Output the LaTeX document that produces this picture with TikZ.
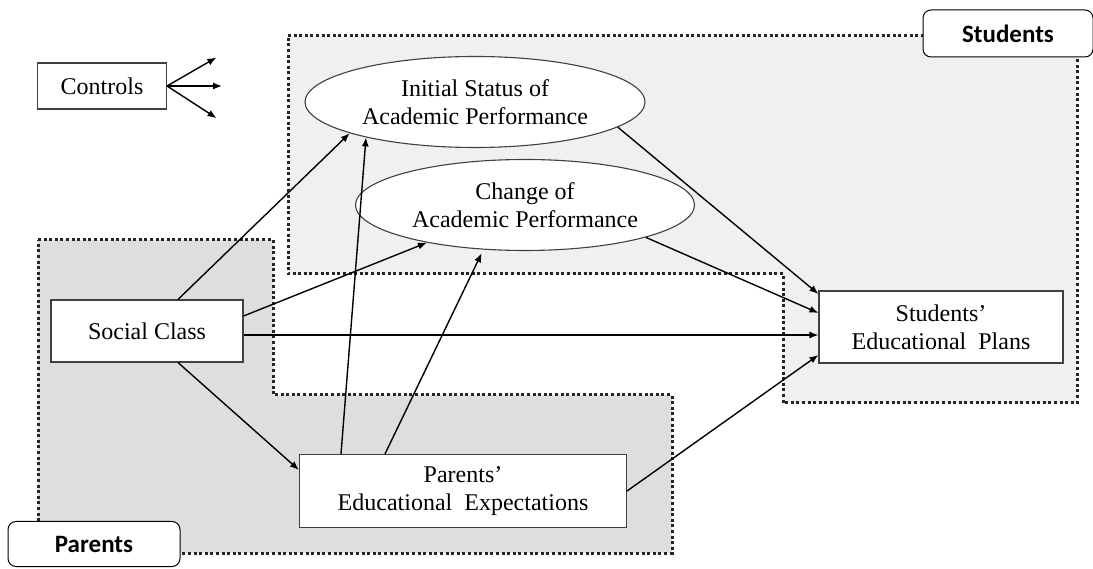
\documentclass[tikz,border=0pt]{standalone}
\usepackage{fontspec}
\setmainfont{Liberation Serif}
\newfontfamily\tagfont{Carlito}
\usetikzlibrary{shapes.geometric,arrows.meta}
\begin{document}
\begin{tikzpicture}[x=1pt,y=1pt,
    group/.style={line width=3pt, draw=black!85, dash pattern=on 3pt off 2.6pt},
    tag/.style={draw, line width=1pt, rounded corners=8pt, fill=white, inner sep=0pt,
      font=\tagfont\bfseries\fontsize{25}{28}\selectfont},
    var/.style={draw=black!75, line width=1.1pt, fill=white, inner sep=0pt, align=center,
      font=\fontsize{24}{28}\selectfont},
    lat/.style={var, ellipse, minimum width=340pt, minimum height=91pt},
    arr/.style={line width=1.4pt, -{Latex[length=9pt,width=7pt]}}]
  \useasboundingbox (0,0) rectangle (1093,568);
  % the two groups
  \draw[group, fill=black!6] (288,532) -- (1077,532) -- (1077,165) -- (783,165)
    -- (783,294) -- (288,294) -- cycle;
  \draw[group, fill=black!13] (38,328) -- (273,328) -- (273,173) -- (672,173)
    -- (672,15) -- (38,15) -- cycle;
  \node[tag, minimum width=170pt, minimum height=47pt] (stud) at (1008,534.5) {Students};
  \node[tag, minimum width=172pt, minimum height=45pt] (par) at (94,24) {Parents};

  \node[var, minimum width=129pt, minimum height=46pt] (ctrl) at (102,482) {Controls};
  \node[var, minimum width=192pt, minimum height=62pt] (sc) at (147,237) {Social Class};
  \node[var, minimum width=327pt, minimum height=73pt] (pe) at (463,77)
    {Parents'\\Educational\ \ Expectations};
  \node[var, minimum width=244pt, minimum height=72pt] (sp) at (941,241)
    {Students'\\Educational\ \ Plans};
  \node[lat] (init) at (475,466) {Initial Status of\\Academic Performance};
  \node[lat, minimum width=339pt] (chg) at (525,363) {Change of\\Academic Performance};

  \foreach \a/\l in {30/57,0/55,-33/59}
    \draw[arr] (ctrl.east) -- ++(\a:\l);

  \draw[arr] ([xshift=31pt]sc.north) -- (init.194);
  \draw[arr] ([yshift=15pt]sc.east) -- (chg.201);
  \draw[arr] ([yshift=-4pt]sc.east) -- ([yshift=-4pt]sc.east -| sp.west);
  \draw[arr] ([xshift=31pt]sc.south) -- ([yshift=21pt]pe.west);
  \draw[arr] ([xshift=-122pt]pe.north) -- (init.198);
  \draw[arr, shorten >=4pt] ([xshift=-78pt]pe.north) -- (chg.227);
  \draw[arr] (init.350) -- ([yshift=33pt]sp.west);
  \draw[arr] (chg.345) -- ([yshift=14pt]sp.west);
  \draw[arr] (pe.east) -- ([yshift=-28pt]sp.west);
\end{tikzpicture}
\end{document}
